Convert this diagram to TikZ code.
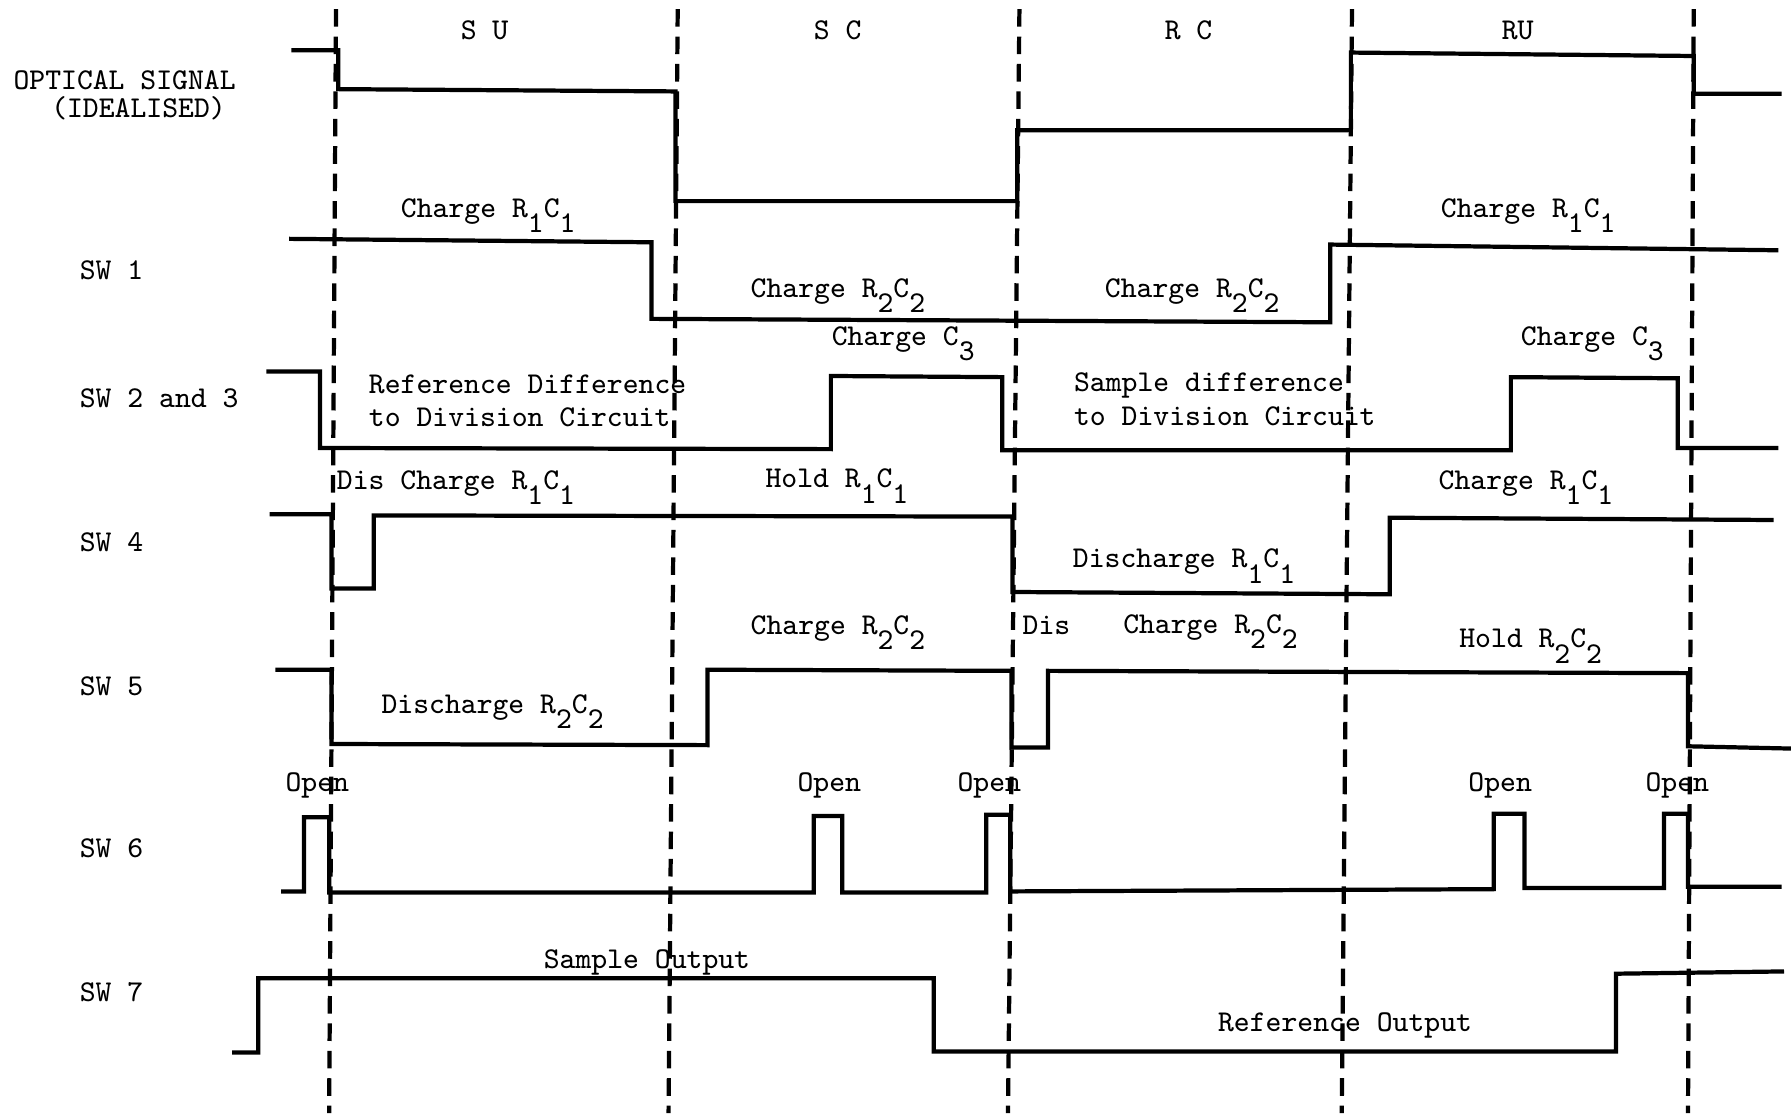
\documentclass[tikz,border=0pt]{standalone}
\usetikzlibrary{positioning}
\newcommand{\lo}[1]{\raisebox{-0.52em}{#1}}

\begin{document}
\begin{tikzpicture}[x=0.1142857mm,y=-0.1142857mm,line width=1.2pt,
    wave/.style={line join=miter},
    phase/.style={dash pattern=on 5pt off 2.8pt},
    txt/.style={font=\fontsize{8.6}{10}\selectfont\ttfamily,inner sep=0pt,anchor=base west}]
  \useasboundingbox (0,0) rectangle (1568,974);
  % phase boundaries and names
  \foreach \xt/\xb in {294/288,593/585,892/882,1183/1174,1482/1477}
    \draw[phase] (\xt,8) -- (\xb,974);
  \foreach \x/\t [count=\i] in {424/S U,733/S C,1040/R C,1328/RU}
    \node[txt,anchor=base] (phase\i) at (\x,35) {\t};

  % signal names
  \node[txt] (optical) at (10,78) {OPTICAL SIGNAL};
  \node[txt] (ideal) at (43,103) {(IDEALISED)};
  \foreach \y/\t [count=\i] in {245/SW 1,357/SW 2 and 3,483/SW 4,609/SW 5,750/SW 6,876/SW 7}
    \node[txt] (sw\i) at (68,\y) {\t};

  % waveforms
  \draw[wave] (255,44) -- (296,44) -- (296,78) -- (591,80) -- (591,176) -- (890,176)
    -- (890,114) -- (1182,114) -- (1182,46) -- (1482,49) -- (1482,82) -- (1559,82);
  \draw[wave] (253,209) -- (570,212) -- (570,279) -- (1164,282) -- (1164,214) -- (1556,219);
  \draw[wave] (233,325) -- (280,325) -- (280,392) -- (727,393) -- (727,329) -- (877,330)
    -- (877,394) -- (1322,394) -- (1322,330) -- (1468,331) -- (1468,392) -- (1556,392);
  \draw[wave] (236,450) -- (290,450) -- (290,515) -- (327,515) -- (327,451) -- (886,452)
    -- (886,518) -- (1216,520) -- (1216,453) -- (1552,455);
  \draw[wave] (241,586) -- (290,586) -- (290,651) -- (619,652) -- (619,586) -- (885,587)
    -- (885,654) -- (917,654) -- (917,587) -- (1477,589) -- (1477,653) -- (1567,655);
  \draw[wave] (246,780) -- (266,780) -- (266,715) -- (288,715) -- (288,781) -- (712,781)
    -- (712,714) -- (737,714) -- (737,781) -- (863,781) -- (863,713) -- (884,713)
    -- (884,780) -- (1307,778) -- (1307,712) -- (1334,712) -- (1334,777) -- (1456,777)
    -- (1456,712) -- (1477,712) -- (1477,776) -- (1559,776);
  \draw[wave] (203,921) -- (226,921) -- (226,856) -- (817,856) -- (817,920) -- (1414,920)
    -- (1414,852) -- (1561,850);

  % SW 1
  \node[txt] (sw1-su) at (349,190) {Charge R\lo1C\lo1};
  \node[txt] (sw1-sc) at (655,260) {Charge R\lo2C\lo2};
  \node[txt] (sw1-rc) at (965,260) {Charge R\lo2C\lo2};
  \node[txt] (sw1-ru) at (1259,190) {Charge R\lo1C\lo1};
  % SW 2 and 3
  \node[txt] (sw2-sc) at (726,302) {Charge C\lo3};
  \node[txt] (sw2-ru) at (1329,302) {Charge C\lo3};
  \node[txt] (sw2-su) at (321,344) {Reference Difference};
  \node[txt] (sw2-su2) at (321,373) {to Division Circuit};
  \node[txt] (sw2-rc) at (938,343) {Sample difference};
  \node[txt] (sw2-rc2) at (938,372) {to Division Circuit};
  % SW 4
  \node[txt] (sw4-su) at (293,428) {Dis Charge R\lo1C\lo1};
  \node[txt] (sw4-sc) at (668,427) {Hold R\lo1C\lo1};
  \node[txt] (sw4-rc) at (937,497) {Discharge R\lo1C\lo1};
  \node[txt] (sw4-ru) at (1257,428) {Charge R\lo1C\lo1};
  % SW 5
  \node[txt] (sw5-su) at (332,624) {Discharge R\lo2C\lo2};
  \node[txt] (sw5-sc) at (655,555) {Charge R\lo2C\lo2};
  \node[txt] (sw5-dis) at (893,555) {Dis};
  \node[txt] (sw5-rc) at (981,554) {Charge R\lo2C\lo2};
  \node[txt] (sw5-ru) at (1275,567) {Hold R\lo2C\lo2};
  % SW 6
  \foreach \x [count=\i] in {248,696,836,1283,1438}
    \node[txt] (open\i) at (\x,693) {Open};
  % SW 7
  \node[txt] (sw7-s) at (474,847) {Sample Output};
  \node[txt] (sw7-r) at (1064,903) {Reference Output};
\end{tikzpicture}
\end{document}
